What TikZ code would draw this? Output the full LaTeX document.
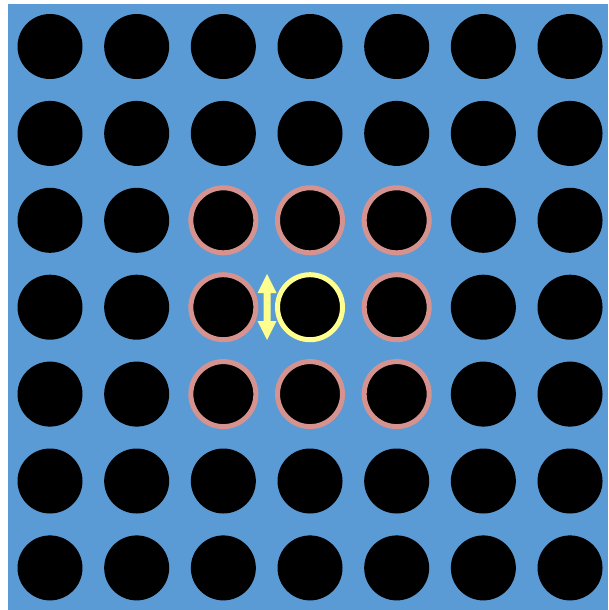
\documentclass[tikz,border=0pt]{standalone}
\definecolor{bgblue}{RGB}{91,155,213}
\definecolor{ringpink}{RGB}{214,146,142}
\definecolor{ringyellow}{RGB}{255,255,143}
\begin{document}
\begin{tikzpicture}[x=1pt,y=-1pt,
  dot/.style={circle,fill=black,inner sep=0pt,minimum size=65pt},
  pinkring/.style={draw=ringpink,line width=5pt},
  yellowring/.style={draw=ringyellow,line width=5pt}]
\useasboundingbox (0,0) rectangle (608,610);
\fill[bgblue] (8,4) rectangle (608,610);
\foreach \i in {0,...,6}{
  \foreach \j in {0,...,6}{
    \node[dot] (c-\i-\j) at ({50+86.67*\i},{46.5+86.9*\j}) {};
  }
}
\foreach \i/\j in {2/2,3/2,4/2,2/3,4/3,2/4,3/4,4/4}{
  \draw[pinkring] (c-\i-\j.center) circle[radius=32.5];
}
\draw[yellowring] (c-3-3.center) circle[radius=32.5];
\coordinate (at) at (267,274);
\coordinate (ab) at (267,340);
\fill[ringyellow] (at) -- ++(9.5,19) -- ++(-6,0) -- ++(0,28) -- ++(6,0) -- (ab)
  -- ++(-9.5,-19) -- ++(6,0) -- ++(0,-28) -- ++(-6,0) -- cycle;
\end{tikzpicture}
\end{document}
